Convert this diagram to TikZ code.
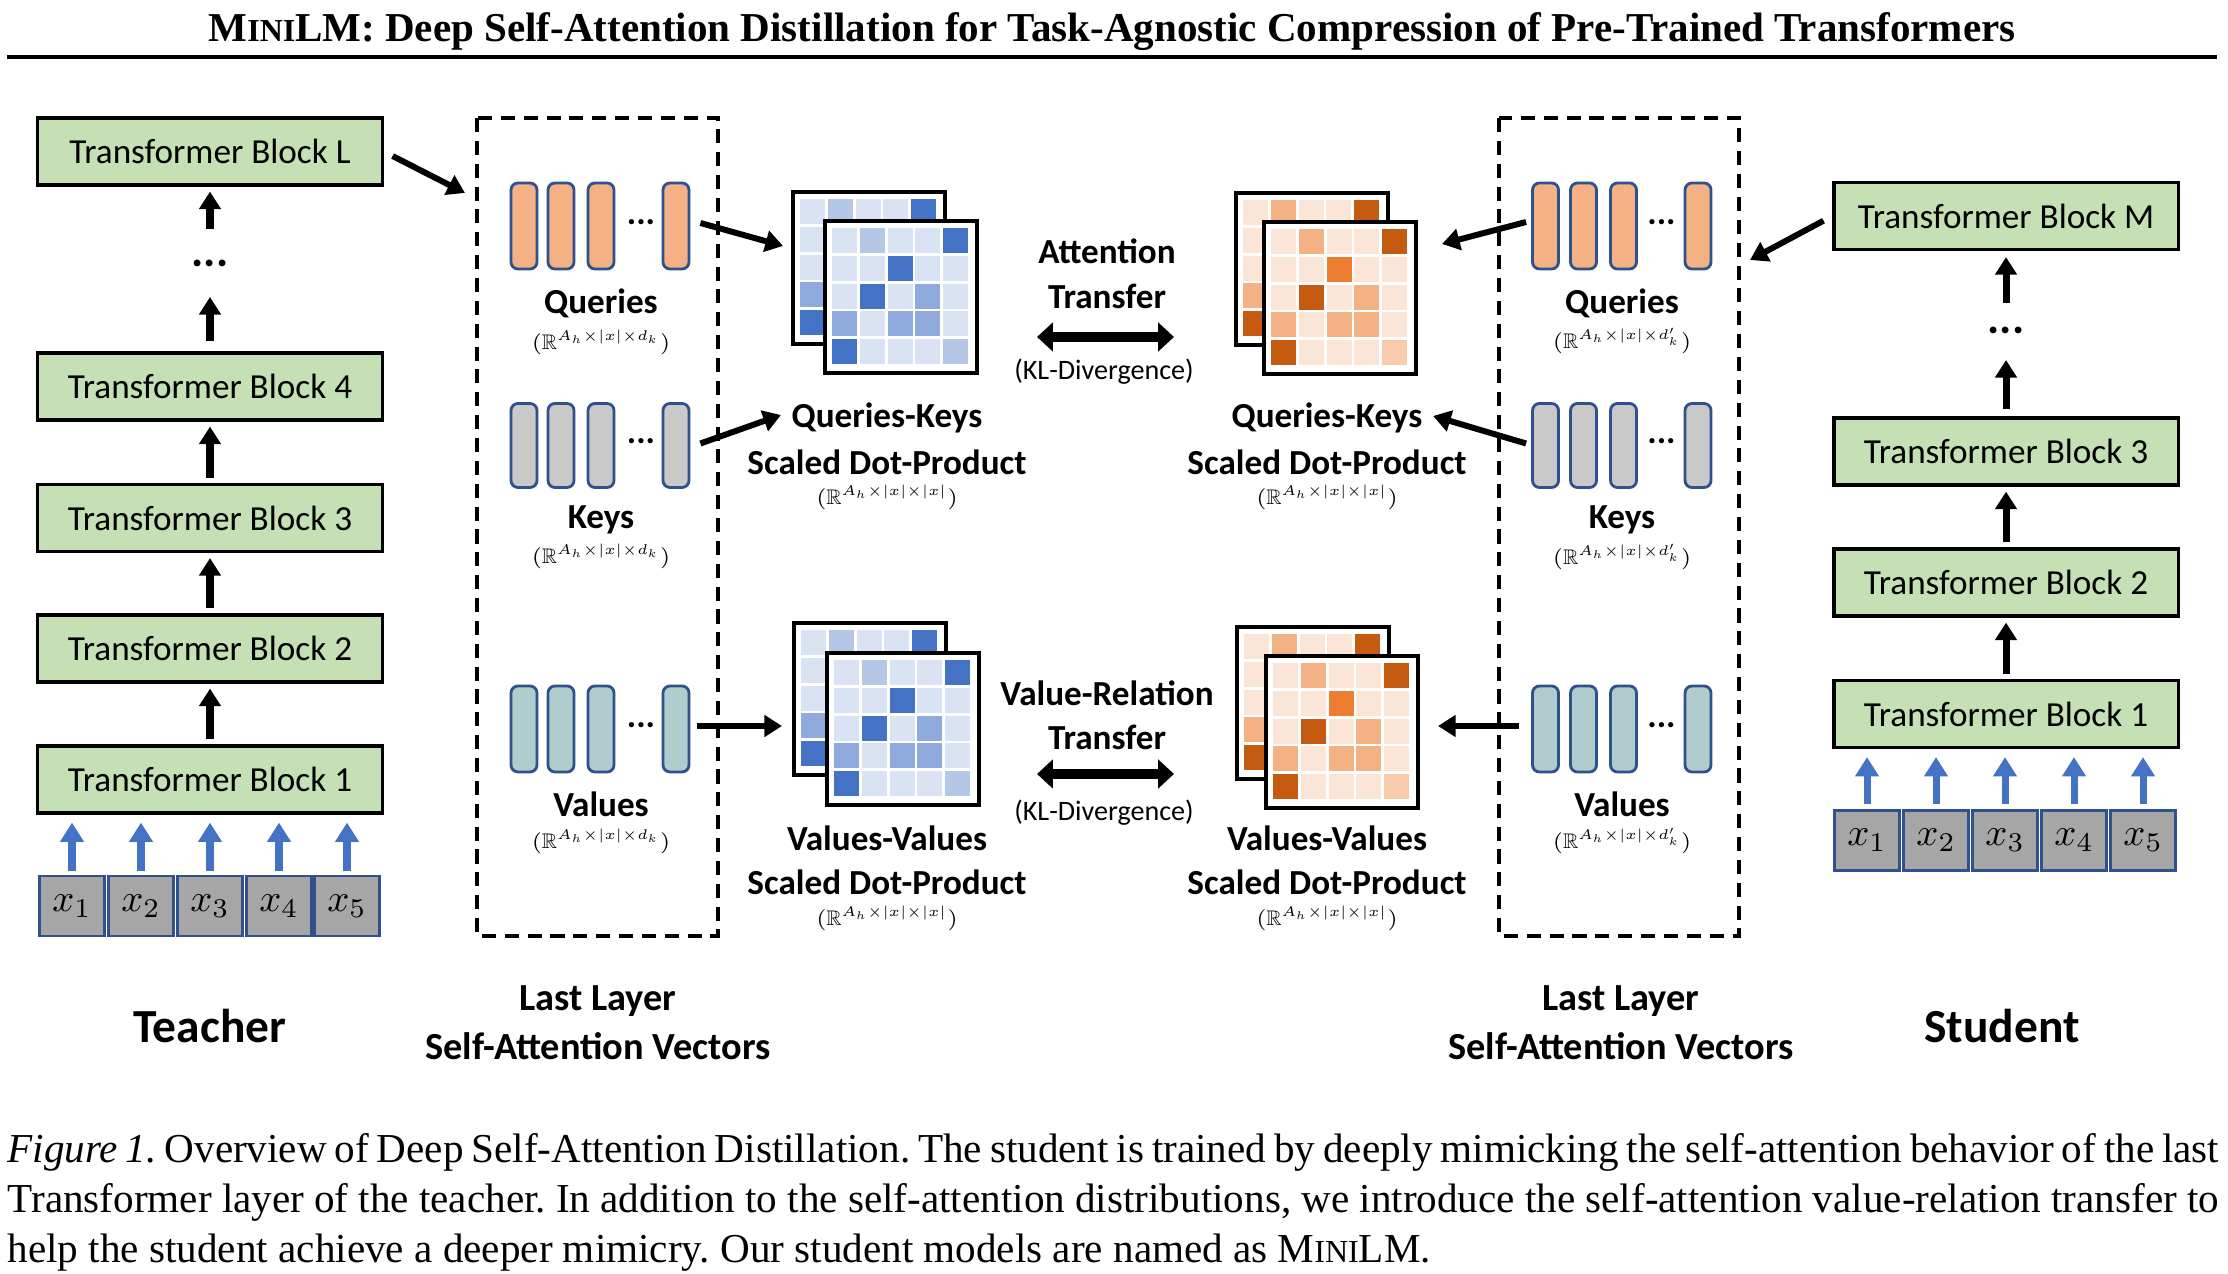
\RequirePackage{fix-cm}
\documentclass[tikz,border=0pt]{standalone}
\usepackage{fontspec}
\usepackage{amssymb}
\setmainfont{Liberation Serif}
\newfontfamily\calib{Carlito}
\DeclareMathSizes{6}{6}{4}{3.2}
\usetikzlibrary{arrows.meta,calc}
\definecolor{blockgreen}{HTML}{C5E0B4}
\definecolor{vecblue}{HTML}{2F528F}
\definecolor{tokgray}{HTML}{A6A6A6}
\definecolor{arrblue}{HTML}{4472C4}
\definecolor{qfill}{HTML}{F4B183}
\definecolor{kfill}{HTML}{C9C9C9}
\definecolor{vfill}{HTML}{B0CCCC}
\definecolor{pb1}{HTML}{DAE3F3}
\definecolor{pb2}{HTML}{B4C7E7}
\definecolor{pb3}{HTML}{8FAADC}
\definecolor{pb4}{HTML}{4472C4}
\definecolor{pb5}{HTML}{4472C4}
\definecolor{po1}{HTML}{FBE5D6}
\definecolor{po2}{HTML}{F8CBAD}
\definecolor{po3}{HTML}{F4B183}
\definecolor{po4}{HTML}{C55A11}
\definecolor{po5}{HTML}{ED7D31}
\newcommand{\attmat}[4]{%
  \fill[white] (#1,#2) rectangle ++(152,152);
  \foreach \vv [count=\ii from 0] in #4 {
    \pgfmathtruncatemacro{\mr}{int(\ii/5)}
    \pgfmathtruncatemacro{\mc}{mod(\ii,5)}
    \fill[#3\vv] ({#1+7+\mc*27.8},{#2+7+\mr*27.8}) rectangle ++(25,25);
  }
  \draw[line width=1.2pt] (#1,#2) rectangle ++(152,152);
}
\newcommand{\bluepat}{1,2,1,1,4,1,1,4,1,1,1,4,1,3,1,3,1,3,3,1,4,1,1,1,2}
\newcommand{\orpat}{1,3,1,1,4,1,1,5,1,1,1,4,1,3,1,3,1,3,3,1,4,1,1,1,2}
\begin{document}
\begin{tikzpicture}[x=0.01cm,y=-0.01cm,
  block/.style={draw=black,line width=0.9pt,fill=blockgreen,minimum width=3.44cm,minimum height=0.67cm,inner sep=0pt,font=\calib\fontsize{10}{12}\selectfont},
  tok/.style={draw=vecblue,line width=0.8pt,fill=tokgray,minimum width=0.65cm,minimum height=0.6cm,inner sep=0pt,font=\fontsize{11}{13}\selectfont},
  vec/.style={draw=vecblue,line width=0.8pt,rounded corners=2pt,minimum width=0.26cm,minimum height=0.86cm,inner sep=0pt},
  lbl/.style={font=\calib\bfseries\fontsize{10}{12}\selectfont,inner sep=0pt},
  botlbl/.style={font=\calib\bfseries\fontsize{10.9}{13.3}\selectfont,inner sep=0pt},
  biglbl/.style={font=\calib\bfseries\fontsize{13.5}{16}\selectfont,inner sep=0pt},
  small/.style={font=\calib\fontsize{8}{10}\selectfont,inner sep=0pt},
  dimlbl/.style={font=\fontsize{6}{7}\selectfont,inner sep=0pt},
  dotsn/.style={font=\calib\bfseries\fontsize{10}{12}\selectfont,inner sep=0pt},
  bigdots/.style={font=\calib\bfseries\fontsize{13}{14}\selectfont,inner sep=0pt},
  uparr/.style={line width=2pt,-{Triangle[width=6pt,length=5pt]}},
  inarr/.style={arrblue,line width=2pt,-{Triangle[width=6.5pt,length=5.5pt]}},
  diagarr/.style={line width=1.7pt,-{Triangle[width=6pt,length=5pt]}},
  dblarr/.style={line width=2.6pt,{Triangle[width=8pt,length=4.5pt]}-{Triangle[width=8pt,length=4.5pt]}},
  dbox/.style={line width=0.9pt,dash pattern=on 4pt off 2.5pt}
]
\fill[white] (0,0) rectangle (2228,1274);
\useasboundingbox (0,0) rectangle (2228,1274);

% title
\node[anchor=base,inner sep=0pt,font=\bfseries\fontsize{11.67}{13}\selectfont] (title) at (1112,42)
  {M\scalebox{0.78}{INI}LM: Deep Self-Attention Distillation for Task-Agnostic Compression of Pre-Trained Transformers};
\draw[line width=1.4pt] (7,57) -- (2217,57);

% teacher stack
\node[block] (tL) at (210,151.5) {Transformer Block L};
\node[bigdots] (tdots) at (210,263) {...};
\node[block] (t4) at (210,386.5) {Transformer Block 4};
\node[block] (t3) at (210,518) {Transformer Block 3};
\node[block] (t2) at (210,648.5) {Transformer Block 2};
\node[block] (t1) at (210,779.5) {Transformer Block 1};
\draw[uparr,shorten <=0.05cm,shorten >=0.05cm] (t1.north) -- (t2.south);
\draw[uparr,shorten <=0.05cm,shorten >=0.05cm] (t2.north) -- (t3.south);
\draw[uparr,shorten <=0.05cm,shorten >=0.05cm] (t3.north) -- (t4.south);
\draw[uparr,shorten <=0.1cm,shorten >=0.34cm] (t4.north) -- (tdots.center);
\draw[uparr,shorten <=0.34cm,shorten >=0.05cm] (tdots.center) -- (tL.south);
\foreach \i/\xx in {1/72,2/141,3/210,4/279,5/347} {
  \node[tok] (tx\i) at (\xx,906) {$x_{\i}$};
  \draw[inarr,shorten <=0.04cm,shorten >=0.08cm] (tx\i.north) -- (tx\i.north |- t1.south);
}
\node[biglbl] (teacher) at (210,1026) {Teacher};

% student stack
\node[block] (sM) at (2006,216) {Transformer Block M};
\node[bigdots] (sdots) at (2006,330) {...};
\node[block] (s3) at (2006,451.5) {Transformer Block 3};
\node[block] (s2) at (2006,582.5) {Transformer Block 2};
\node[block] (s1) at (2006,714) {Transformer Block 1};
\draw[uparr,shorten <=0.05cm,shorten >=0.05cm] (s1.north) -- (s2.south);
\draw[uparr,shorten <=0.05cm,shorten >=0.05cm] (s2.north) -- (s3.south);
\draw[uparr,shorten <=0.07cm,shorten >=0.30cm] (s3.north) -- (sdots.center);
\draw[uparr,shorten <=0.27cm,shorten >=0.06cm] (sdots.center) -- (sM.south);
\foreach \i/\xx in {1/1867,2/1936,3/2005,4/2074,5/2143} {
  \node[tok] (sx\i) at (\xx,840.5) {$x_{\i}$};
  \draw[inarr,shorten <=0.05cm,shorten >=0.08cm] (sx\i.north) -- (sx\i.north |- s1.south);
}
\node[biglbl] (student) at (2002,1026) {Student};

% dashed boxes
\draw[dbox] (477,118) rectangle (718,936);
\draw[dbox] (1499,118) rectangle (1739,936);
\coordinate (tboxin) at (465,193);
\coordinate (sboxin) at (1750,260);
\node[botlbl,align=center] (tlast) at (598,1023) {Last Layer\\[0.02cm]Self-Attention Vectors};
\node[botlbl,align=center] (slast) at (1621,1023) {Last Layer\\[0.02cm]Self-Attention Vectors};

% vectors
\foreach \row/\yy/\fc/\h in {q/226/qfill/0.86cm,k/445.5/kfill/0.84cm,v/729/vfill/0.86cm} {
  \foreach \j/\xx in {1/524,2/561,3/601,4/676}
    \node[vec,fill=\fc,minimum height=\h] (t\row\j) at (\xx,\yy) {};
  \node[dotsn] (t\row dots) at (641,\yy-4) {...};
}
\foreach \row/\yy/\fc/\h in {q/226/qfill/0.86cm,k/445.5/kfill/0.84cm,v/729/vfill/0.86cm} {
  \foreach \j/\xx in {1/1545.5,2/1583.5,3/1623.5,4/1698}
    \node[vec,fill=\fc,minimum height=\h] (s\row\j) at (\xx,\yy) {};
  \node[dotsn] (s\row dots) at (1661.5,\yy-4) {...};
}
\node[lbl] (tqlab) at (601,303) {Queries};
\node[dimlbl] (tqdim) at (601,342) {$(\mathbb{R}^{A_h\times|x|\times d_k})$};
\node[lbl] (tklab) at (601,520) {Keys};
\node[dimlbl] (tkdim) at (601,556) {$(\mathbb{R}^{A_h\times|x|\times d_k})$};
\node[lbl] (tvlab) at (601,804) {Values};
\node[dimlbl] (tvdim) at (601,841) {$(\mathbb{R}^{A_h\times|x|\times d_k})$};
\node[lbl] (sqlab) at (1622,303) {Queries};
\node[dimlbl] (sqdim) at (1622,341) {$(\mathbb{R}^{A_h\times|x|\times d'_k})$};
\node[lbl] (sklab) at (1622,520) {Keys};
\node[dimlbl] (skdim) at (1622,557) {$(\mathbb{R}^{A_h\times|x|\times d'_k})$};
\node[lbl] (svlab) at (1622,804) {Values};
\node[dimlbl] (svdim) at (1622,841) {$(\mathbb{R}^{A_h\times|x|\times d'_k})$};

% matrices
\attmat{793}{192}{pb}{\bluepat}
\attmat{825}{221}{pb}{\bluepat}
\attmat{1236}{193}{po}{\orpat}
\attmat{1264}{222}{po}{\orpat}
\attmat{794}{623}{pb}{\bluepat}
\attmat{827}{653}{pb}{\bluepat}
\attmat{1237}{627}{po}{\orpat}
\attmat{1266}{656}{po}{\orpat}
\coordinate (tqkmat) at (783,246);
\coordinate (sqkmat) at (1442,244);
\coordinate (tvvmat) at (782,726);
\coordinate (svvmat) at (1438,726);

% matrix labels
\node[lbl] (tqk1) at (887,418) {Queries-Keys};
\node[lbl] (tqk2) at (887,462) {Scaled Dot-Product};
\node[dimlbl] (tqk3) at (887,497) {$(\mathbb{R}^{A_h\times|x|\times|x|})$};
\node[lbl] (sqk1) at (1327,418) {Queries-Keys};
\node[lbl] (sqk2) at (1327,462) {Scaled Dot-Product};
\node[dimlbl] (sqk3) at (1327,497) {$(\mathbb{R}^{A_h\times|x|\times|x|})$};
\node[lbl] (tvv1) at (887,838) {Values-Values};
\node[lbl] (tvv2) at (887,882) {Scaled Dot-Product};
\node[dimlbl] (tvv3) at (887,918) {$(\mathbb{R}^{A_h\times|x|\times|x|})$};
\node[lbl] (svv1) at (1327,838) {Values-Values};
\node[lbl] (svv2) at (1327,882) {Scaled Dot-Product};
\node[dimlbl] (svv3) at (1327,918) {$(\mathbb{R}^{A_h\times|x|\times|x|})$};

% transfer labels
\node[lbl] (at1) at (1107,251) {Attention};
\node[lbl] (at2) at (1107,296) {Transfer};
\coordinate (atl) at (1037,337);
\coordinate (atr) at (1174,337);
\draw[dblarr] (atl) -- (atr);
\node[small] (akl) at (1104,372) {(KL-Divergence)};
\node[lbl] (vr1) at (1107,693) {Value-Relation};
\node[lbl] (vr2) at (1107,737) {Transfer};
\coordinate (vrl) at (1037,774);
\coordinate (vrr) at (1174,774);
\draw[dblarr] (vrl) -- (vrr);
\node[small] (vkl) at (1104,813) {(KL-Divergence)};

% connectors
\coordinate (tqo) at ($(tq4.east)+(10,-3)$);
\coordinate (tko) at ($(tk4.east)+(10,-2)$);
\coordinate (tvo) at ($(tv4.east)+(7,-3)$);
\coordinate (sqo) at ($(sq1.west)+(-5,-4)$);
\coordinate (sko) at ($(sk1.west)+(-5,-2)$);
\coordinate (svo) at ($(sv1.west)+(-12,-3)$);
\coordinate (tkin) at ($(tqk1.west)+(-10,-3)$);
\coordinate (skin) at ($(sqk1.east)+(10,-2)$);
\draw[diagarr,shorten <=0.1cm] (tL.east) -- (tboxin);
\draw[diagarr,shorten <=0.1cm] (sM.west) -- (sboxin);
\draw[diagarr] (tqo) -- (tqkmat);
\draw[diagarr] (tko) -- (tkin);
\draw[diagarr] (tvo) -- (tvvmat);
\draw[diagarr] (sqo) -- (sqkmat);
\draw[diagarr] (sko) -- (skin);
\draw[diagarr] (svo) -- (svvmat);

% caption
\node[anchor=base west,inner sep=0pt,font=\fontsize{11.7}{14}\selectfont] (cap1) at (7,1162)
  {\frenchspacing\makebox[22.1cm][s]{\textit{Figure 1.} Overview of Deep Self-Attention Distillation. The student is trained by deeply mimicking the self-attention behavior of the last}};
\node[anchor=base west,inner sep=0pt,font=\fontsize{11.7}{14}\selectfont] (cap2) at (7,1212)
  {\frenchspacing\makebox[22.1cm][s]{Transformer layer of the teacher. In addition to the self-attention distributions, we introduce the self-attention value-relation transfer to}};
\node[anchor=base west,inner sep=0pt,font=\fontsize{11.7}{14}\selectfont] (cap3) at (7,1262)
  {\frenchspacing help the student achieve a deeper mimicry. Our student models are named as M\scalebox{0.78}{INI}LM.};
\end{tikzpicture}
\end{document}
